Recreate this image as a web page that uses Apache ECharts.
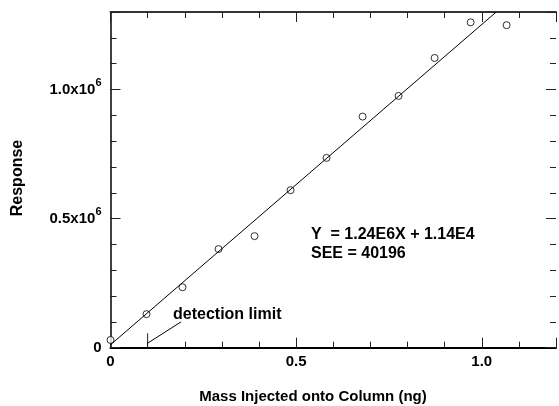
<!DOCTYPE html>
<html>
<head>
<meta charset="utf-8">
<script src="https://cdn.jsdelivr.net/npm/echarts@6/dist/echarts.min.js"></script>
<style>
html,body{margin:0;padding:0;background:#fff;}
#chart{width:559px;height:406px;}
</style>
</head>
<body>
<div id="chart"></div>
<script>
// ---- data ----
var massNg   = [0, 0.097, 0.194, 0.291, 0.388, 0.485, 0.582, 0.679, 0.776, 0.873, 0.970, 1.067];
var response = [30000, 130000, 234000, 382000, 432000, 610000, 735000, 895000, 975000, 1122000, 1260000, 1249000];
var fitX = [0, 1.039];
var fitY = [11400, 1300000];
var detPointerX = [0.0995, 0.19];
var detPointerY = [17000, 100000];
var detTickX = [0.1, 0.1];
var detTickY = [0, 56000];
var xTickValues = [0, 0.5, 1.0];
var xTickLabels = ['0', '0.5', '1.0'];
var yTickValues = [0, 500000, 1000000];
var yTickLabels = ['0', '0.5x10^6', '1.0x10^6'];
var equationText = 'Y  = 1.24E6X + 1.14E4';
var seeText = 'SEE = 40196';
var detectionText = 'detection limit';
var xTitle = 'Mass Injected onto Column (ng)';
var yTitle = 'Response';

var FONT = '"Liberation Sans", Arial, sans-serif';

function pairs(xs, ys) { return xs.map(function (x, i) { return [x, ys[i]]; }); }

function xLabel(v) {
  for (var i = 0; i < xTickValues.length; i++) if (Math.abs(v - xTickValues[i]) < 1e-9) return xTickLabels[i];
  return '';
}
function yLabel(v) {
  for (var i = 0; i < yTickValues.length; i++) {
    if (Math.abs(v - yTickValues[i]) < 1e-3) {
      var parts = yTickLabels[i].split('^');
      return parts.length > 1 ? '{a|' + parts[0] + '}{s|' + parts[1] + '}' : '{a|' + parts[0] + '}';
    }
  }
  return '';
}

var tickStyle = { color: '#222', width: 1 };

function xAxisDef(pos, interval, len, lineShow, lineWidth, lineColor, labels) {
  return {
    type: 'value', position: pos, min: 0, max: 1.2, interval: interval,
    axisLine: { show: lineShow, onZero: false, lineStyle: { color: lineColor, width: lineWidth } },
    axisTick: { show: true, inside: true, length: len, lineStyle: tickStyle },
    axisLabel: labels ? {
      show: true, margin: 7, formatter: xLabel, color: '#000',
      fontFamily: FONT, fontWeight: 'bold', fontSize: 15
    } : { show: false },
    splitLine: { show: false }
  };
}
function yAxisDef(pos, interval, len, lineShow, lineWidth, lineColor, labels) {
  return {
    type: 'value', position: pos, min: 0, max: 1300000, interval: interval,
    axisLine: { show: lineShow, onZero: false, lineStyle: { color: lineColor, width: lineWidth } },
    axisTick: { show: true, inside: true, length: len, lineStyle: tickStyle },
    axisLabel: labels ? {
      show: true, margin: 9, formatter: yLabel, color: '#000',
      fontFamily: FONT, fontWeight: 'bold', fontSize: 15,
      rich: {
        a: { fontFamily: FONT, fontWeight: 'bold', fontSize: 15, lineHeight: 16, color: '#000', verticalAlign: 'bottom' },
        s: { fontFamily: FONT, fontWeight: 'bold', fontSize: 11, lineHeight: 12, color: '#000', padding: [0, 0, 9, 0], verticalAlign: 'bottom' }
      }
    } : { show: false },
    splitLine: { show: false }
  };
}

var chart = echarts.init(document.getElementById('chart'), null, { renderer: 'canvas' });
var option = {
  animation: false,
  backgroundColor: '#fff',
  grid: { left: 110.5, top: 12, width: 449, height: 335.7, containLabel: false },
  xAxis: [
    xAxisDef('bottom', 0.5, 10, true, 2, '#000', true),
    xAxisDef('bottom', 0.1, 6, false, 1, '#000', false),
    xAxisDef('top', 0.5, 10, true, 2, '#333', false),
    xAxisDef('top', 0.1, 6, false, 1, '#333', false)
  ],
  yAxis: [
    yAxisDef('left', 500000, 10, true, 1.5, '#000', true),
    yAxisDef('left', 100000, 6, false, 1, '#000', false),
    yAxisDef('right', 500000, 10, false, 1, '#000', false),
    yAxisDef('right', 100000, 6, false, 1, '#000', false)
  ],
  series: [
    {
      type: 'line', data: pairs(fitX, fitY), xAxisIndex: 0, yAxisIndex: 0,
      symbol: 'none', lineStyle: { color: '#000', width: 1 }, clip: true, silent: true
    },
    {
      type: 'line', data: pairs(detPointerX, detPointerY), xAxisIndex: 0, yAxisIndex: 0,
      symbol: 'none', lineStyle: { color: '#000', width: 1 }, silent: true
    },
    {
      type: 'line', data: pairs(detTickX, detTickY), xAxisIndex: 0, yAxisIndex: 0,
      symbol: 'none', lineStyle: { color: '#222', width: 1 }, silent: true
    },
    {
      type: 'scatter', data: pairs(massNg, response), xAxisIndex: 0, yAxisIndex: 0,
      symbol: 'circle', symbolSize: 7,
      itemStyle: { color: '#fff', borderColor: '#000', borderWidth: 1 }, clip: false
    }
  ],
  graphic: [
    { type: 'text', left: 311, top: 227, style: { text: equationText, font: 'bold 16px ' + FONT, fill: '#000' } },
    { type: 'text', left: 311, top: 246, style: { text: seeText, font: 'bold 16px ' + FONT, fill: '#000' } },
    { type: 'text', left: 173, top: 307, style: { text: detectionText, font: 'bold 16px ' + FONT, fill: '#000' } },
    { type: 'text', x: 313, y: 397, style: { text: xTitle, font: 'bold 15px ' + FONT, fill: '#000', align: 'center', verticalAlign: 'middle' } },
    { type: 'text', x: 18, y: 178, rotation: Math.PI / 2, style: { text: yTitle, font: 'bold 16px ' + FONT, fill: '#000', align: 'center', verticalAlign: 'middle' } }
  ]
};
chart.setOption(option);
</script>
</body>
</html>
